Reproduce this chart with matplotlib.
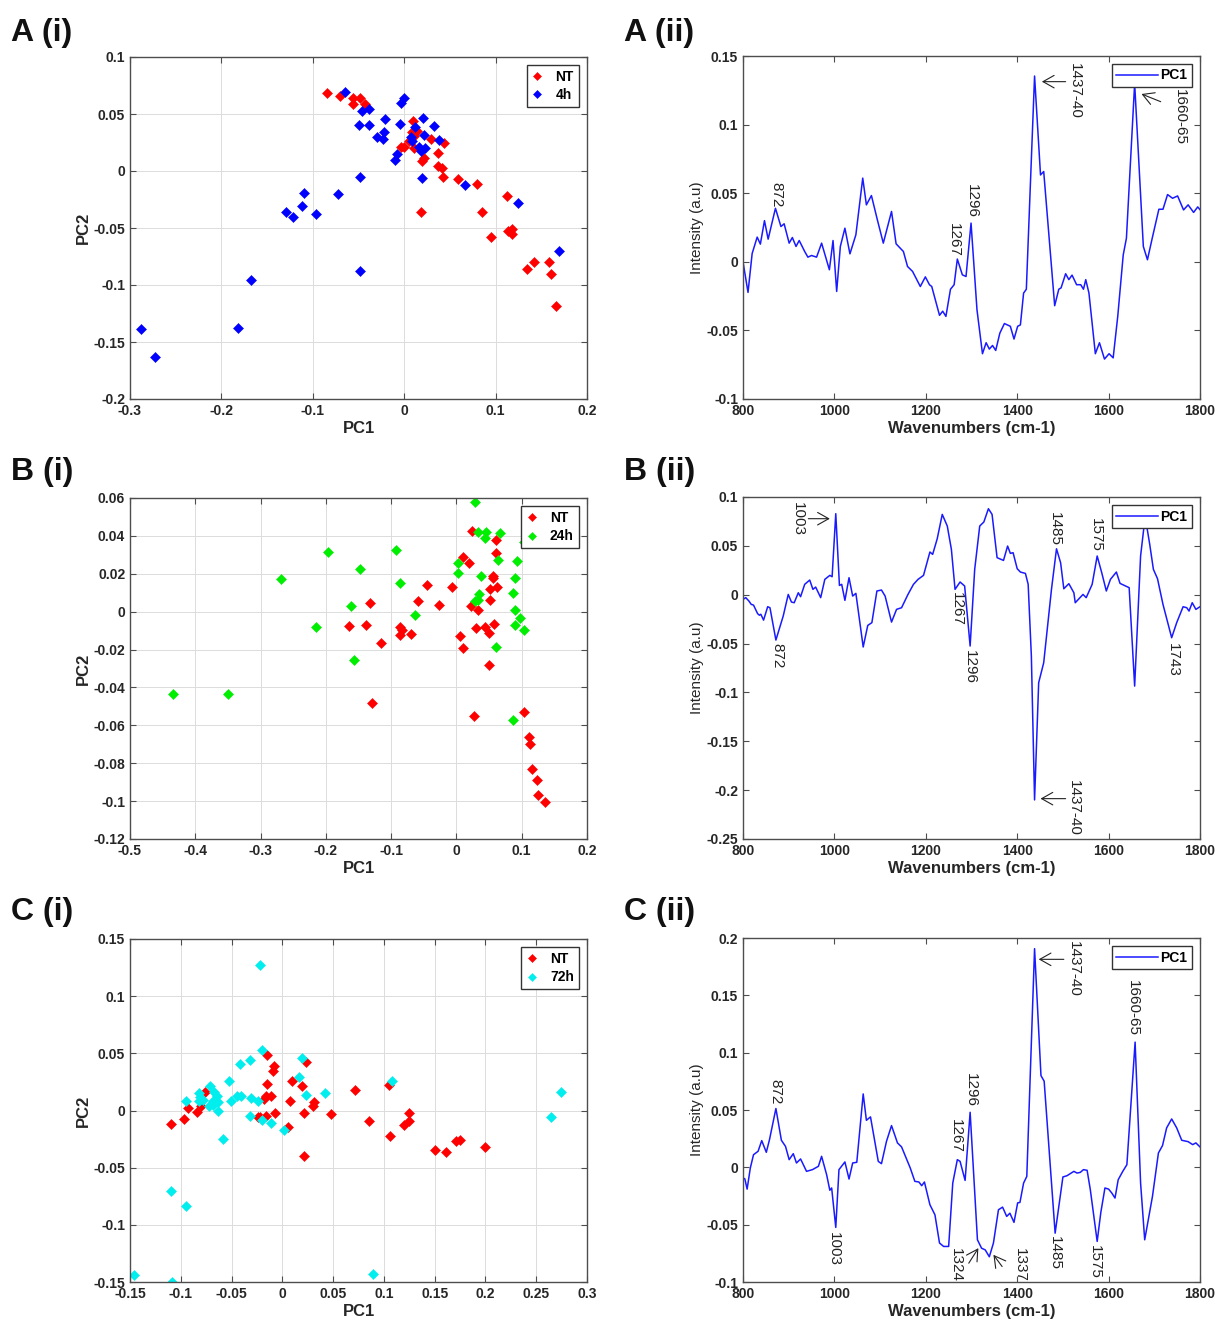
import matplotlib
matplotlib.use("Agg")
import matplotlib.pyplot as plt
import numpy as np
from matplotlib.ticker import FuncFormatter, MultipleLocator

plt.rcParams["font.family"] = ["Liberation Sans", "DejaVu Sans"]

# ---------------- data ----------------
# A (i): PCA scores, NT vs 4h
a_nt_pc1 = [-0.084, -0.070, -0.056, -0.056, -0.0485, -0.043, 0.0095, 0.0088, 0.0106, 0.014,
            -0.004, 0.0, 0.005, 0.0106, 0.018, 0.020, 0.0215, 0.029, 0.037, 0.037,
            0.041, 0.042, 0.043, 0.059, 0.080, 0.085, 0.095, 0.112, 0.114, 0.118,
            0.118, 0.134, 0.142, 0.158, 0.161, 0.166]
a_nt_pc2 = [0.0685, 0.066, 0.0636, 0.059, 0.0636, 0.0586, 0.0437, 0.034, 0.0306, 0.035,
            0.021, 0.021, 0.026, 0.020, -0.036, 0.0087, 0.011, 0.0277, 0.016, 0.0044,
            0.0023, -0.005, 0.0248, -0.007, -0.011, -0.036, -0.058, -0.0216, -0.053, -0.0507,
            -0.0554, -0.086, -0.080, -0.080, -0.090, -0.118]
a_4h_pc1 = [-0.065, -0.046, -0.039, -0.050, -0.039, -0.0296, -0.023, -0.022, -0.021, -0.005,
            -0.003, -0.0004, -0.010, -0.0077, 0.0077, 0.008, 0.0117, 0.016, 0.018, 0.021,
            0.022, 0.023, 0.0325, 0.038, 0.019, -0.0485, 0.067, 0.124, 0.169, -0.110,
            -0.112, -0.129, -0.122, -0.097, -0.0726, -0.048, -0.168, -0.182, -0.2876, -0.273]
a_4h_pc2 = [0.069, 0.0528, 0.0548, 0.040, 0.040, 0.030, 0.0277, 0.0344, 0.0458, 0.041,
            0.0598, 0.0644, 0.0096, 0.0146, 0.0294, 0.0265, 0.0388, 0.0207, 0.0178, 0.0464,
            0.032, 0.0204, 0.0397, 0.027, -0.0064, -0.005, -0.012, -0.028, -0.070, -0.019,
            -0.0306, -0.036, -0.040, -0.0376, -0.0204, -0.0875, -0.096, -0.138, -0.139, -0.163]

# B (i): PCA scores, NT vs 24h
b_nt_pc1 = [0.024, 0.0097, 0.019, 0.061, 0.060, 0.0556, 0.056, 0.062, 0.052, 0.052,
            -0.0066, 0.023, 0.033, 0.030, 0.044, 0.0505, 0.057, 0.006, 0.0097, 0.0495,
            0.0265, 0.103, 0.111, 0.113, 0.116, 0.123, 0.125, 0.136, -0.045, -0.027,
            -0.059, -0.087, -0.083, -0.087, -0.069, -0.115, -0.133, -0.138, -0.164, -0.130]
b_nt_pc2 = [0.0428, 0.029, 0.0256, 0.0379, 0.031, 0.019, 0.0177, 0.013, 0.012, 0.006,
            0.013, 0.003, 0.001, -0.0084, -0.008, -0.011, -0.0063, -0.013, -0.019, -0.028,
            -0.055, -0.0528, -0.066, -0.0698, -0.083, -0.0888, -0.0967, -0.1007, 0.0142, 0.0033,
            0.0056, -0.008, -0.0095, -0.0125, -0.012, -0.0168, 0.0046, -0.0068, -0.0074, -0.0484]
b_24h_pc1 = [0.029, 0.0327, 0.045, 0.044, 0.066, 0.063, 0.093, 0.0026, 0.0026, 0.037,
             0.089, 0.034, 0.033, 0.028, 0.086, 0.090, 0.098, 0.090, 0.103, 0.060,
             0.086, 0.103, -0.063, -0.087, -0.092, -0.147, -0.162, -0.157, -0.215, -0.197,
             -0.269, -0.3505, -0.434]
b_24h_pc2 = [0.058, 0.0423, 0.0423, 0.039, 0.0416, 0.0275, 0.0267, 0.0256, 0.0204, 0.019,
             0.0177, 0.0091, 0.006, 0.0054, 0.0098, 0.001, -0.0032, -0.0068, -0.0095, -0.0186,
             -0.057, 0.0367, -0.0016, 0.015, 0.0328, 0.0226, 0.003, -0.0256, -0.0081, 0.0316,
             0.0174, -0.0437, -0.0432]

# C (i): PCA scores, NT vs 72h
c_nt_pc1 = [-0.1095, -0.0964, -0.093, -0.0843, -0.080, -0.076, -0.0236, -0.022, -0.0177, -0.016,
            -0.011, -0.0154, -0.016, -0.0148, -0.0095, -0.008, -0.0072, 0.0059, 0.0075, 0.0092,
            0.019, 0.0216, 0.0213, 0.0233, 0.0305, 0.0315, 0.048, 0.0715, 0.085, 0.105,
            0.106, 0.120, 0.1246, 0.1246, 0.150, 0.1607, 0.171, 0.1748, 0.200]
c_nt_pc2 = [-0.012, -0.0073, 0.002, -0.0009, 0.0035, 0.016, -0.0058, -0.0058, 0.0099, 0.0131,
            0.0131, 0.0233, -0.0044, 0.0487, 0.0347, 0.039, -0.0023, -0.014, 0.0087, 0.0254,
            0.021, -0.0023, -0.0397, 0.0426, 0.0035, 0.0073, -0.0032, 0.0175, -0.0096, 0.0224,
            -0.0227, -0.0125, -0.0023, -0.009, -0.0344, -0.0367, -0.0265, -0.026, -0.032]
c_72h_pc1 = [-0.022, -0.0203, -0.0416, -0.0318, -0.0525, -0.071, -0.082, -0.081, -0.0816, -0.0777,
             -0.0718, -0.068, -0.067, -0.0646, -0.0636, -0.068, -0.063, -0.0948, -0.0505, -0.045,
             -0.041, -0.031, -0.0318, -0.0236, -0.0203, -0.0115, 0.0016, 0.0164, 0.0197, 0.023,
             0.042, 0.108, -0.0587, -0.1095, -0.095, -0.1456, -0.109, 0.0889, 0.265, 0.2748]
c_72h_pc2 = [0.1274, 0.0525, 0.0405, 0.0443, 0.0262, 0.0216, 0.0157, 0.0122, 0.0087, 0.0093,
             0.0035, 0.005, 0.016, 0.0128, 0.0073, 0.0087, 0.0, 0.0079, 0.0085, 0.0128,
             0.0128, 0.0108, -0.0044, 0.0079, -0.0082, -0.011, -0.0169, 0.0297, 0.0458, 0.0137,
             0.0157, 0.0254, -0.0248, -0.0703, -0.0831, -0.1443, -0.1496, -0.1429, -0.0058, 0.016]

# A (ii): PC1 loadings
a_wn = [800, 811, 820, 831, 838, 847, 855, 871, 883, 890, 901, 908, 916, 923, 935, 942, 950, 961,
        972, 989, 997, 1005, 1013, 1023, 1034, 1047, 1062, 1070, 1081, 1094, 1107, 1125, 1135,
        1151, 1160, 1171, 1188, 1199, 1208, 1213, 1230, 1237, 1244, 1254, 1262, 1269, 1280, 1288,
        1299, 1312, 1324, 1332, 1339, 1346, 1353, 1362, 1372, 1385, 1393, 1401, 1407, 1414, 1420,
        1438, 1451, 1458, 1482, 1491, 1496, 1506, 1513, 1520, 1530, 1539, 1545, 1550, 1557, 1571,
        1580, 1591, 1601, 1610, 1620, 1632, 1639, 1657, 1676, 1685, 1696, 1710, 1719, 1729, 1740,
        1751, 1764, 1774, 1786, 1795, 1800]
a_load = [0.0, -0.0223, 0.006, 0.018, 0.0129, 0.030, 0.0165, 0.039, 0.0257, 0.0277, 0.0136,
          0.0177, 0.0112, 0.0155, 0.0075, 0.0034, 0.0046, 0.0034, 0.0136, -0.0058, 0.0155,
          -0.0216, 0.0112, 0.0245, 0.0058, 0.0197, 0.061, 0.0415, 0.0483, 0.0306, 0.0136, 0.0367,
          0.0131, 0.0075, -0.0034, -0.007, -0.018, -0.011, -0.0167, -0.018, -0.039, -0.036,
          -0.0398, -0.020, -0.0167, 0.002, -0.0095, -0.0107, 0.0282, -0.035, -0.067, -0.059,
          -0.0636, -0.061, -0.0646, -0.052, -0.045, -0.047, -0.0563, -0.047, -0.046, -0.0228,
          -0.020, 0.1354, 0.0633, 0.0658, -0.032, -0.020, -0.019, -0.0087, -0.013, -0.0097,
          -0.0167, -0.0167, -0.020, -0.013, -0.0228, -0.067, -0.059, -0.0709, -0.067, -0.070,
          -0.0398, 0.005, 0.0172, 0.130, 0.0112, 0.0015, 0.018, 0.0383, 0.0383, 0.049, 0.0463,
          0.048, 0.0378, 0.0415, 0.036, 0.040, 0.038]

# B (ii): PC1 loadings
b_wn = [800, 806, 813, 818, 823, 832, 836, 839, 845, 854, 859, 872, 888, 899, 906, 912, 921, 926,
        935, 946, 953, 959, 970, 979, 990, 995, 1003, 1011, 1016, 1023, 1032, 1040, 1047, 1063,
        1073, 1082, 1093, 1103, 1111, 1125, 1136, 1147, 1161, 1173, 1183, 1195, 1209, 1215, 1225,
        1236, 1247, 1256, 1264, 1275, 1285, 1297, 1307, 1318, 1327, 1337, 1345, 1356, 1370, 1379,
        1385, 1391, 1400, 1407, 1418, 1424, 1431, 1438, 1447, 1458, 1475, 1486, 1495, 1502, 1513,
        1524, 1527, 1544, 1551, 1564, 1575, 1585, 1595, 1604, 1617, 1625, 1634, 1645, 1657, 1670,
        1680, 1690, 1698, 1707, 1719, 1738, 1749, 1763, 1771, 1776, 1783, 1791, 1800]
b_load = [-0.0048, -0.003, -0.0065, -0.0099, -0.0106, -0.0194, -0.021, -0.020, -0.026, -0.0123,
          -0.0133, -0.0464, -0.0218, 0.0003, -0.0075, -0.0082, 0.002, -0.002, 0.0106, 0.015,
          0.0055, 0.0078, -0.003, 0.0157, 0.0198, 0.0184, 0.0829, 0.0095, 0.0106, -0.0058, 0.0174,
          -0.0014, 0.0014, -0.0535, -0.0314, -0.0286, 0.0038, 0.0048, -0.0014, -0.028, -0.015,
          -0.0133, 0.0003, 0.0106, 0.0157, 0.0198, 0.0437, 0.0413, 0.0573, 0.0822, 0.0703, 0.0464,
          0.0055, 0.013, 0.0089, -0.0525, 0.026, 0.0703, 0.0744, 0.088, 0.0822, 0.0379, 0.0351,
          0.0498, 0.0423, 0.043, 0.0266, 0.0232, 0.0218, 0.0106, -0.0628, -0.210, -0.090, -0.0696,
          0.0055, 0.047, 0.0327, 0.0061, 0.0113, 0.002, -0.0082, 0.0003, -0.003, 0.0106, 0.0396,
          0.0225, 0.0038, 0.0157, 0.0232, 0.0116, 0.0096, 0.0072, -0.0935, 0.0396, 0.080, 0.0515,
          0.026, 0.0164, -0.0099, -0.044, -0.0286, -0.0123, -0.0133, -0.0167, -0.0082, -0.015,
          -0.0123]

# C (ii): PC1 loadings
c_wn = [800, 804, 809, 816, 823, 833, 841, 851, 858, 872, 884, 893, 901, 910, 917, 926, 939, 952,
        965, 972, 983, 990, 994, 1003, 1010, 1023, 1032, 1040, 1049, 1063, 1070, 1079, 1096, 1103,
        1114, 1125, 1138, 1147, 1166, 1176, 1185, 1191, 1197, 1209, 1220, 1230, 1239, 1250, 1259,
        1269, 1275, 1286, 1297, 1313, 1322, 1330, 1339, 1348, 1359, 1368, 1377, 1384, 1393, 1401,
        1406, 1414, 1421, 1438, 1452, 1459, 1483, 1500, 1509, 1524, 1531, 1538, 1545, 1553, 1560,
        1575, 1583, 1592, 1600, 1607, 1614, 1621, 1631, 1640, 1658, 1670, 1679, 1696, 1709, 1718,
        1727, 1738, 1749, 1760, 1774, 1784, 1791, 1800]
c_load = [-0.0093, -0.010, -0.019, -0.0006, 0.011, 0.014, 0.0233, 0.0131, 0.0242, 0.0513, 0.0236,
          0.0183, 0.0067, 0.0119, 0.0038, 0.0073, -0.0035, -0.002, 0.0009, 0.0096, -0.0064,
          -0.020, -0.018, -0.0524, -0.002, 0.0047, -0.0102, 0.0038, 0.0044, 0.064, 0.041, 0.044,
          0.0052, 0.0032, 0.0227, 0.0364, 0.0213, 0.0178, -0.0006, -0.0122, -0.0128, -0.016,
          -0.0128, -0.0326, -0.0414, -0.066, -0.069, -0.069, -0.0137, 0.0067, 0.0052, -0.0114,
          0.048, -0.0632, -0.0705, -0.072, -0.078, -0.066, -0.037, -0.0347, -0.0428, -0.040,
          -0.048, -0.031, -0.0306, -0.0137, -0.0079, 0.1907, 0.080, 0.0751, -0.0574, -0.0084,
          -0.0073, -0.0035, -0.005, -0.0044, -0.002, -0.0026, -0.0195, -0.0646, -0.0393, -0.018,
          -0.019, -0.0224, -0.0268, -0.0108, -0.0035, 0.0023, 0.1092, -0.0137, -0.0632, -0.0253,
          0.0125, 0.019, 0.0344, 0.0422, 0.0344, 0.0236, 0.0224, 0.0198, 0.0213, 0.0178]

# peak labels: (text, wavenumber, top of label)
a_peaks = [("872", 872, 0.058), ("1267", 1262, 0.028), ("1296", 1301, 0.057),
           ("1437-40", 1526, 0.145), ("1660-65", 1756, 0.126)]
b_peaks = [("1003", 920, 0.095), ("872", 875, -0.049), ("1267", 1268, 0.003),
           ("1296", 1297, -0.057), ("1485", 1483, 0.085), ("1575", 1573, 0.078),
           ("1743", 1740, -0.049), ("1437-40", 1523, -0.19)]
c_peaks = [("872", 870, 0.077), ("1003", 999, -0.056), ("1267", 1266, 0.042),
           ("1296", 1298, 0.082), ("1437-40", 1523, 0.197), ("1660-65", 1653, 0.163),
           ("1485", 1482, -0.06), ("1575", 1571, -0.068), ("1324", 1265, -0.0705),
           ("1337", 1406, -0.0705)]
# arrows: (tail x, tail y, tip x, tip y)
a_arrows = [(1506, 0.1313, 1454, 0.1313), (1714, 0.1167, 1672, 0.1223)]
b_arrows = [(943, 0.0778, 990, 0.0778), (1506, -0.2087, 1451, -0.2087)]
c_arrows = [(1502, 0.1814, 1447, 0.1814), (1294, -0.0836, 1315, -0.0705),
            (1367, -0.0865, 1348, -0.0763)]

# ---------------- drawing ----------------
W, H = 1215, 1326
fig = plt.figure(figsize=(W / 100, H / 100), dpi=100)

TXT = "#262626"
SPINE = "#4d4d4d"


def fmt(v, pos):
    s = "%g" % round(v, 6)
    return "0" if s in ("-0", "0") else s


def make_axes(left, top, right, bottom):
    ax = fig.add_axes([left / W, 1 - bottom / H, (right - left) / W, (bottom - top) / H])
    for sp in ax.spines.values():
        sp.set_color(SPINE)
        sp.set_linewidth(1.0)
    ax.tick_params(direction="in", top=True, right=True, length=4, width=0.8,
                   colors=SPINE, labelcolor=TXT, labelsize=10)
    ax.xaxis.set_major_formatter(FuncFormatter(fmt))
    ax.yaxis.set_major_formatter(FuncFormatter(fmt))
    return ax


def bold_ticks(ax):
    for lab in ax.get_xticklabels() + ax.get_yticklabels():
        lab.set_fontweight("bold")


def scatter_panel(box, nt, other, other_col, other_lab, xlim, xstep, ylim, ystep):
    ax = make_axes(*box)
    ax.grid(True, color="#dcdcdc", linewidth=0.7)
    ax.set_axisbelow(True)
    ax.plot(nt[0], nt[1], "D", color="red", markersize=4.6, markeredgewidth=0.4, label="NT")
    ax.plot(other[0], other[1], "D", color=other_col, markersize=4.6, markeredgewidth=0.4,
            label=other_lab)
    ax.set_xlim(*xlim)
    ax.set_ylim(*ylim)
    ax.xaxis.set_major_locator(MultipleLocator(xstep))
    ax.yaxis.set_major_locator(MultipleLocator(ystep))
    ax.set_xlabel("PC1", fontsize=12, fontweight="bold", color=TXT, labelpad=2)
    ax.set_ylabel("PC2", fontsize=12, fontweight="bold", color=TXT, labelpad=2)
    leg = ax.legend(loc="upper right", frameon=True, fancybox=False,
                    handlelength=0.8, handletextpad=0.9, borderpad=0.35, labelspacing=0.3,
                    borderaxespad=0.6, edgecolor="#333333", framealpha=1,
                    prop={"weight": "bold", "size": 10}, markerscale=0.8)
    leg.get_frame().set_linewidth(1.0)
    bold_ticks(ax)
    return ax


def spectrum_panel(box, wn, load, ylim, peaks, arrows):
    ax = make_axes(*box)
    ax.plot(wn, load, color="#1a1aff", linewidth=1.1, label="PC1")
    ax.set_xlim(800, 1800)
    ax.set_ylim(*ylim)
    ax.xaxis.set_major_locator(MultipleLocator(200))
    ax.yaxis.set_major_locator(MultipleLocator(0.05))
    ax.set_xlabel("Wavenumbers (cm-1)", fontsize=12, fontweight="bold", color=TXT, labelpad=2)
    ax.set_ylabel("Intensity (a.u)", fontsize=11, color=TXT, labelpad=2)
    for text, x, y in peaks:
        ax.text(x, y, text, rotation=-90, ha="center", va="top", fontsize=11,
                color="#222222", clip_on=False)
    for x0, y0, x1, y1 in arrows:
        ax.annotate("", xy=(x1, y1), xytext=(x0, y0),
                    arrowprops=dict(arrowstyle="->,head_length=0.8,head_width=0.45",
                                    color="#222222", lw=0.8, shrinkA=0, shrinkB=0))
    leg = ax.legend(loc="upper right", frameon=True, fancybox=False, handlelength=3.0,
                    handletextpad=0.2, borderpad=0.3, borderaxespad=0.6,
                    edgecolor="#333333", framealpha=1, prop={"weight": "bold", "size": 10})
    leg.get_frame().set_linewidth(1.0)
    bold_ticks(ax)
    return ax


scatter_panel((130, 57, 587, 399), (a_nt_pc1, a_nt_pc2), (a_4h_pc1, a_4h_pc2), "blue", "4h",
              (-0.3, 0.2), 0.1, (-0.2, 0.1), 0.05)
scatter_panel((130, 498, 587, 839), (b_nt_pc1, b_nt_pc2), (b_24h_pc1, b_24h_pc2), "#00ee00", "24h",
              (-0.5, 0.2), 0.1, (-0.12, 0.06), 0.02)
scatter_panel((130, 939, 587, 1282), (c_nt_pc1, c_nt_pc2), (c_72h_pc1, c_72h_pc2), "#00eeee", "72h",
              (-0.15, 0.3), 0.05, (-0.15, 0.15), 0.05)

spectrum_panel((743, 56, 1200, 399), a_wn, a_load, (-0.1, 0.15), a_peaks, a_arrows)
spectrum_panel((743, 497, 1200, 839), b_wn, b_load, (-0.25, 0.1), b_peaks, b_arrows)
spectrum_panel((743, 938, 1200, 1282), c_wn, c_load, (-0.1, 0.2), c_peaks, c_arrows)

for lab, x, y in [("A (i)", 11, 33), ("A (ii)", 624, 33), ("B (i)", 11, 472),
                  ("B (ii)", 624, 472), ("C (i)", 11, 912), ("C (ii)", 624, 912)]:
    fig.text(x / W, 1 - y / H, lab, fontsize=23, fontweight="bold", va="center", ha="left",
             color="#111111")

fig.savefig("out.png", dpi=100, facecolor="white")
